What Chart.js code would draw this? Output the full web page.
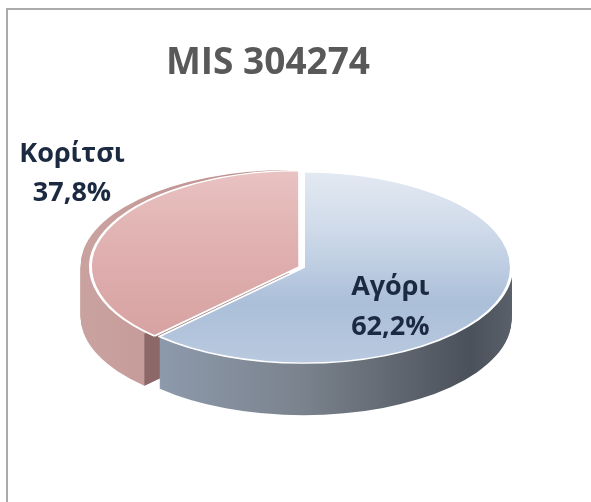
<!DOCTYPE html>
<html lang="el">
<head>
<meta charset="UTF-8">
<title>MIS 304274</title>
<script src="https://cdn.jsdelivr.net/npm/chart.js"></script>
<style>
  html, body { margin: 0; padding: 0; background: #fff; }
  #wrap { position: relative; width: 591px; height: 502px; overflow: hidden; }
  #frame { position: absolute; left: 6px; top: 8px; width: 640px; height: 540px;
           border-left: 2px solid #ababab; border-top: 2px solid #ababab; pointer-events: none; }
  canvas { display: block; }
</style>
</head>
<body>
<div id="wrap">
  <canvas id="pieChart" width="591" height="502"></canvas>
  <div id="frame"></div>
</div>
<script>
const chartTitle = 'MIS 304274';
const categories = ['Αγόρι', 'Κορίτσι'];
const shares = [62.2, 37.8];
const valueLabels = ['62,2%', '37,8%'];

// look of the fake 3D pie
const tilt = 0.46;      // vertical squash of the top face
const depth = 52;       // thickness of the pie in px
const lift = 20;        // move the ellipse down from the circle centre
const explode = [0, 16];
const topStops = [
  [[0, '#e4eaf2'], [0.3, '#d0dbea'], [0.68, '#abbfd9'], [1, '#bacadf']],
  [[0, '#e9c3c2'], [0.45, '#dfaeae'], [1, '#d49e9d']]
];
const sideStops = [
  [[0, '#a0aec2'], [0.14, '#8e9bad'], [0.5, '#7a828d'], [0.73, '#5f666f'], [0.9, '#4a515a'], [1, '#59606a']],
  [[0, '#c9a19f'], [0.5, '#b98b8a'], [1, '#a57574']]
];
const faceColor = ['#6b727c', '#8c6868'];
const labelPlace = [{ f: 0.45, dy: 11, gap: 40 }, { f: 1.2, dy: -63, gap: 39 }];

function makeGrad(ctx, x0, y0, x1, y1, stops) {
  const g = ctx.createLinearGradient(x0, y0, x1, y1);
  stops.forEach(s => g.addColorStop(s[0], s[1]));
  return g;
}

function toScreen(arc, x, y, dy) {
  return [x, arc.y + lift + dy + (y - arc.y) * tilt];
}

const pie3d = {
  id: 'pie3d',
  beforeDatasetsDraw(chart) {
    const ctx = chart.ctx;
    const arcs = chart.getDatasetMeta(0).data;
    // sides, back slice first
    for (let i = arcs.length - 1; i >= 0; i--) {
      const a = arcs[i];
      const mid = (a.startAngle + a.endAngle) / 2;
      const ox = Math.cos(mid) * explode[i];
      const oy = Math.sin(mid) * explode[i];
      const r = a.outerRadius;
      const fill = makeGrad(ctx, a.x - r, 0, a.x + r, 0, sideStops[i]);
      for (let d = depth; d >= 1; d--) {
        ctx.save();
        ctx.translate(0, a.y + lift + d);
        ctx.scale(1, tilt);
        ctx.translate(0, -a.y);
        ctx.beginPath();
        ctx.moveTo(a.x + ox, a.y + oy);
        ctx.arc(a.x + ox, a.y + oy, r, a.startAngle, a.endAngle);
        ctx.closePath();
        ctx.fillStyle = fill;
        ctx.fill();
        ctx.restore();
      }
      // cut face at the start edge
      const cx = a.x + ox, cy = a.y + oy;
      const ex = cx + Math.cos(a.startAngle) * r, ey = cy + Math.sin(a.startAngle) * r;
      const p = [toScreen(a, cx, cy, 0), toScreen(a, ex, ey, 0), toScreen(a, ex, ey, depth), toScreen(a, cx, cy, depth)];
      ctx.beginPath();
      ctx.moveTo(p[0][0], p[0][1]);
      p.slice(1).forEach(q => ctx.lineTo(q[0], q[1]));
      ctx.closePath();
      ctx.fillStyle = faceColor[i];
      ctx.fill();
    }
    // squash the top face that Chart.js draws next
    const a0 = arcs[0];
    ctx.save();
    ctx.translate(0, a0.y + lift);
    ctx.scale(1, tilt);
    ctx.translate(0, -a0.y);
  },
  afterDatasetsDraw(chart) {
    chart.ctx.restore();
  },
  afterDraw(chart) {
    const ctx = chart.ctx;
    const arcs = chart.getDatasetMeta(0).data;
    ctx.save();
    ctx.textAlign = 'center';
    ctx.textBaseline = 'alphabetic';
    ctx.fillStyle = '#595959';
    ctx.font = 'bold 37px "Open Sans"';
    ctx.fillText(chartTitle, 268, 74);

    ctx.fillStyle = '#1b2a41';
    ctx.font = 'bold 27px "Open Sans"';
    arcs.forEach((a, i) => {
      const mid = (a.startAngle + a.endAngle) / 2;
      const pl = labelPlace[i];
      const rr = a.outerRadius * pl.f;
      const pt = toScreen(a, a.x + Math.cos(mid) * rr, a.y + Math.sin(mid) * rr, 0);
      ctx.fillText(categories[i], pt[0], pt[1] + pl.dy);
      ctx.fillText(valueLabels[i], pt[0], pt[1] + pl.dy + pl.gap);
    });
    ctx.restore();
  }
};

new Chart(document.getElementById('pieChart').getContext('2d'), {
  type: 'pie',
  data: {
    labels: categories,
    datasets: [{
      data: shares,
      offset: explode,
      borderColor: '#ffffff',
      borderWidth: 3,
      backgroundColor: (c) => {
        const area = c.chart.chartArea;
        if (!area) return topStops[c.dataIndex][1][1];
        return makeGrad(c.chart.ctx, 0, area.top, 0, area.bottom, topStops[c.dataIndex]);
      }
    }]
  },
  options: {
    responsive: false,
    animation: false,
    events: [],
    layout: { padding: { left: 86, right: 70, top: 30, bottom: 37 } },
    plugins: {
      legend: { display: false },
      title: { display: false },
      tooltip: { enabled: false }
    }
  },
  plugins: [pie3d]
});
</script>
</body>
</html>
